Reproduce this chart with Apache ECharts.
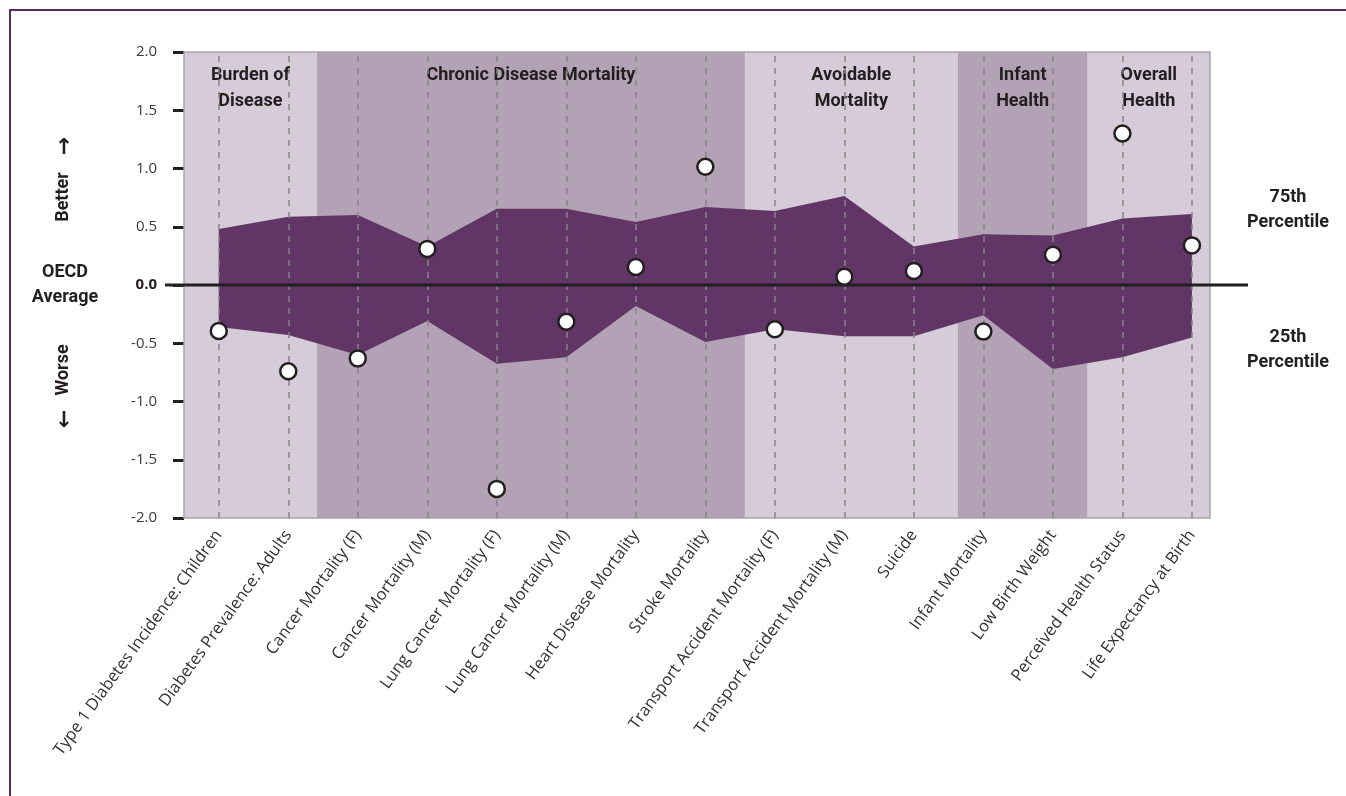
<!DOCTYPE html>
<html>
<head>
<meta charset="utf-8">
<script src="https://cdn.jsdelivr.net/npm/echarts@6/dist/echarts.min.js"></script>
<style>
  html, body { margin: 0; padding: 0; background: #fff; }
  #main { width: 1346px; height: 796px; }
</style>
</head>
<body>
<div id="main"></div>
<script>
// indicators (x axis)
var categories = [
  'Type 1 Diabetes Incidence: Children',
  'Diabetes Prevalence: Adults',
  'Cancer Mortality (F)',
  'Cancer Mortality (M)',
  'Lung Cancer Mortality (F)',
  'Lung Cancer Mortality (M)',
  'Heart Disease Mortality',
  'Stroke Mortality',
  'Transport Accident Mortality (F)',
  'Transport Accident Mortality (M)',
  'Suicide',
  'Infant Mortality',
  'Low Birth Weight',
  'Perceived Health Status',
  'Life Expectancy at Birth'
]
// standardised scores
var scores = [-0.395, -0.74, -0.63, 0.31, -1.75, -0.315, 0.155, 1.015, -0.38, 0.07, 0.12, -0.40, 0.26, 1.30, 0.34]
var p75 = [0.48, 0.585, 0.60, 0.33, 0.655, 0.655, 0.54, 0.67, 0.635, 0.765, 0.33, 0.435, 0.425, 0.57, 0.61]
var p25 = [-0.36, -0.43, -0.60, -0.31, -0.675, -0.62, -0.18, -0.49, -0.38, -0.44, -0.44, -0.26, -0.72, -0.62, -0.45]

// domain sections (edges in category units)
var sectionNames = ['Burden of\nDisease', 'Chronic Disease Mortality', 'Avoidable\nMortality', 'Infant\nHealth', 'Overall\nHealth']
var sectionEdges = [-0.5, 1.41, 7.57, 10.63, 12.5, 14.26]
var yTicks = [-2, -1.5, -1, -0.5, 0, 0.5, 1, 1.5, 2]

var light = '#d6cbd8'
var dark = '#b3a2b5'
var bandColor = '#613667'
var ink = '#231f20'

var myChart = echarts.init(document.getElementById('main'))

var sectionAreas = sectionNames.map(function (name, i) {
  return [
    { name: name, xAxis: sectionEdges[i], itemStyle: { color: i % 2 === 0 ? light : dark } },
    { xAxis: sectionEdges[i + 1] }
  ]
})

var option = {
  animation: false,
  grid: { left: 184, right: 136, top: 52, bottom: 278 },
  xAxis: {
    type: 'value',
    min: sectionEdges[0],
    max: sectionEdges[sectionEdges.length - 1],
    axisLine: { show: false, onZero: false },
    axisTick: { show: false },
    splitLine: { show: false },
    axisLabel: {
      customValues: categories.map(function (c, i) { return i }),
      formatter: function (v) { return categories[v] },
      rotate: 54,
      margin: 14,
      fontFamily: 'Open Sans',
      fontSize: 16.5,
      color: '#333'
    }
  },
  yAxis: {
    type: 'value',
    min: yTicks[0],
    max: yTicks[yTicks.length - 1],
    interval: 0.5,
    axisLine: { show: false, onZero: false },
    axisTick: { show: true, length: 11, lineStyle: { color: ink, width: 3 } },
    splitLine: { show: false },
    axisLabel: {
      margin: 27,
      fontFamily: 'Open Sans',
      fontSize: 15,
      color: '#3a3a3a',
      formatter: function (v) {
        return v === 0 ? '{b|0.0}' : v.toFixed(1)
      },
      rich: { b: { fontFamily: 'Open Sans', fontSize: 15, fontWeight: 'bold', color: ink } }
    }
  },
  series: [
    {
      name: 'sections',
      type: 'line',
      data: [],
      z: 1,
      markArea: {
        silent: true,
        label: {
          show: true,
          position: 'insideTop',
          distance: 10,
          fontFamily: 'Roboto',
          fontWeight: 'bold',
          fontSize: 18,
          lineHeight: 26,
          color: ink
        },
        data: sectionAreas.concat([[
          { xAxis: sectionEdges[0], yAxis: yTicks[0], label: { show: false },
            itemStyle: { color: 'rgba(0,0,0,0)', borderColor: '#a6a6a6', borderWidth: 1.5 } },
          { xAxis: sectionEdges[sectionEdges.length - 1], yAxis: yTicks[yTicks.length - 1] }
        ]])
      }
    },
    {
      name: 'percentile range',
      type: 'custom',
      z: 2,
      data: categories.map(function (c, i) { return [i, p25[i], p75[i]] }),
      encode: { x: 0, y: [1, 2] },
      renderItem: function (params, api) {
        if (params.dataIndex !== 0) return null
        var pts = []
        p75.forEach(function (v, i) { pts.push(api.coord([i, v])) })
        for (var i = p25.length - 1; i >= 0; i--) pts.push(api.coord([i, p25[i]]))
        return { type: 'polygon', shape: { points: pts }, style: { fill: bandColor } }
      }
    },
    {
      name: 'guides',
      type: 'line',
      data: [],
      z: 3,
      markLine: {
        silent: true,
        symbol: ['none', 'none'],
        label: { show: false },
        lineStyle: { type: [6, 6], color: '#858585', width: 1.5 },
        data: categories.map(function (c, i) { return { xAxis: i } })
      }
    },
    {
      name: 'score',
      type: 'scatter',
      z: 10,
      symbol: 'circle',
      symbolSize: 16,
      itemStyle: { color: '#fff', borderColor: ink, borderWidth: 2.5, opacity: 1 },
      data: scores.map(function (v, i) { return [i, v] })
    }
  ]
}

myChart.setOption(option)

// zero line and side annotations
var y0 = myChart.convertToPixel({ yAxisIndex: 0 }, 0)
function txt(text, x, y, opts) {
  return {
    type: 'text', x: x, y: y, rotation: (opts && opts.rotation) || 0, z: 20,
    style: {
      text: text, fill: ink, align: 'center', verticalAlign: 'middle',
      fontFamily: (opts && opts.family) || 'Roboto', fontWeight: 'bold',
      fontSize: (opts && opts.size) || 18, lineHeight: 25
    }
  }
}
myChart.setOption({
  graphic: [
    { type: 'rect', z: 0, shape: { x: 10, y: 10, width: 1345, height: 800 },
      style: { fill: 'none', stroke: '#5b2863', lineWidth: 2 } },
    { type: 'line', z: 8, shape: { x1: 165, y1: y0, x2: 1248, y2: y0 },
      style: { stroke: ink, lineWidth: 3 } },
    txt('OECD\nAverage', 65, y0),
    txt('Better', 63, 197, { rotation: Math.PI / 2 }),
    txt('\u2191', 64, 148, { family: 'DejaVu Sans', size: 22 }),
    txt('Worse', 63, 370, { rotation: Math.PI / 2 }),
    txt('\u2193', 64, 421, { family: 'DejaVu Sans', size: 22 }),
    txt('75th\nPercentile', 1288, 210),
    txt('25th\nPercentile', 1288, 350)
  ]
})
</script>
</body>
</html>
